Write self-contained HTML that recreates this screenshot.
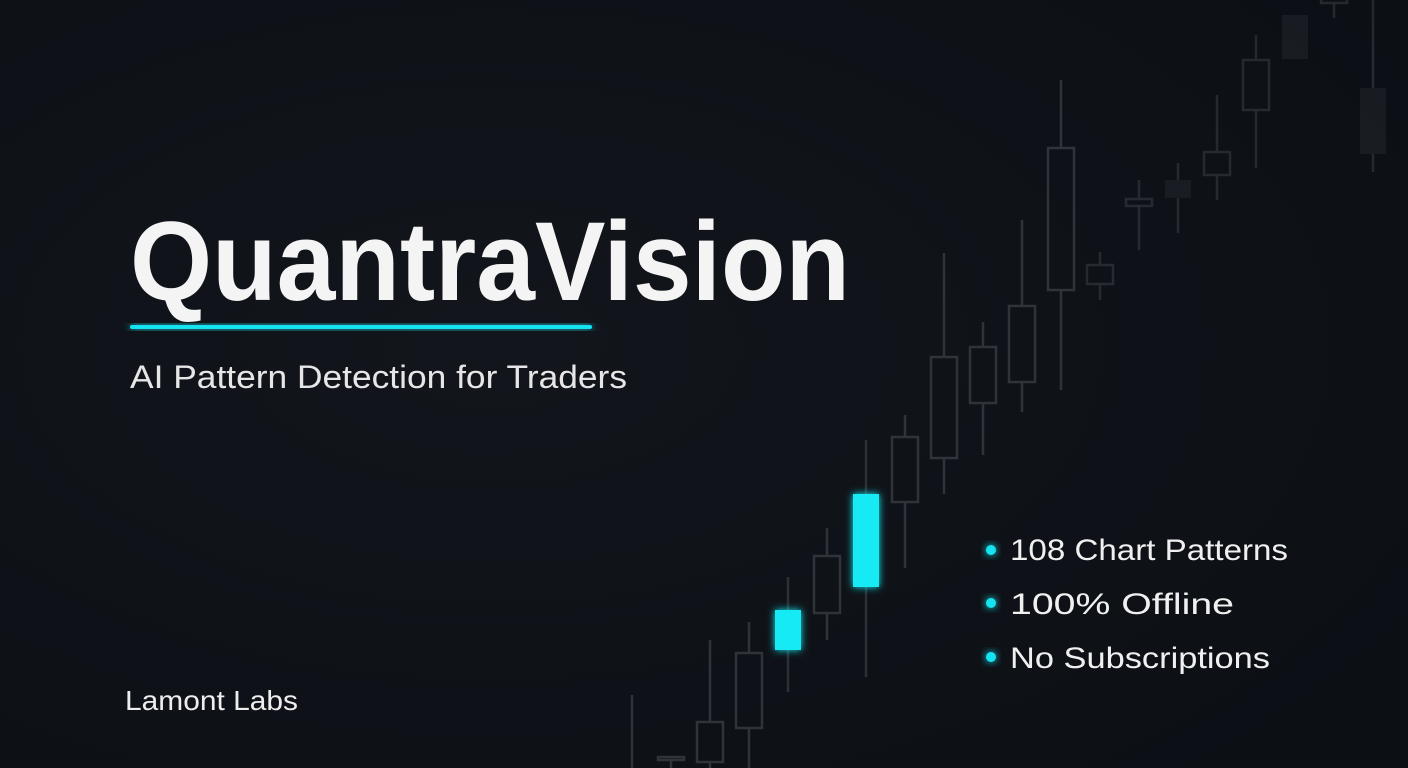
<!DOCTYPE html>
<html><head><meta charset="utf-8">
<style>
html,body{margin:0;padding:0;background:#0d1117;}
svg{display:block;}
</style></head>
<body>
<svg id="chart" width="1408" height="768" viewBox="0 0 1408 768">
<defs>
<radialGradient id="bg" cx="0.35" cy="0.45" r="0.9">
<stop offset="0" stop-color="#12161c"/><stop offset="1" stop-color="#0b0f14"/>
</radialGradient>
<filter id="glow" x="-50%" y="-50%" width="200%" height="200%">
<feGaussianBlur stdDeviation="4" result="b"/>
<feMerge><feMergeNode in="b"/><feMergeNode in="SourceGraphic"/></feMerge>
</filter>
</defs>
<rect width="1408" height="768" fill="url(#bg)"/>
<g id="candles"></g>
<text x="130" y="300" font-family="Liberation Sans, sans-serif" font-weight="700" font-size="112" fill="#f4f4f4" textLength="720" lengthAdjust="spacingAndGlyphs">QuantraVision</text>
<rect x="130" y="325" width="462" height="4" rx="2" fill="#19e3f2" filter="url(#glow)"/>
<text x="130" y="388" font-family="Liberation Sans, sans-serif" font-size="32" fill="#e6e6e6" textLength="497" lengthAdjust="spacingAndGlyphs">AI Pattern Detection for Traders</text>
<text x="125" y="710" font-family="Liberation Sans, sans-serif" font-size="28" fill="#ededed" textLength="173" lengthAdjust="spacingAndGlyphs">Lamont Labs</text>
<g>
<circle cx="991" cy="550" r="5" fill="#19e3f2" filter="url(#glow)"/>
<text x="1010" y="560" font-family="Liberation Sans, sans-serif" font-size="30" fill="#f0f0f0" textLength="278" lengthAdjust="spacingAndGlyphs">108 Chart Patterns</text>
<circle cx="991" cy="603" r="5" fill="#19e3f2" filter="url(#glow)"/>
<text x="1010" y="614" font-family="Liberation Sans, sans-serif" font-size="30" fill="#f0f0f0" textLength="224" lengthAdjust="spacingAndGlyphs">100% Offline</text>
<circle cx="991" cy="657" r="5" fill="#19e3f2" filter="url(#glow)"/>
<text x="1010" y="668" font-family="Liberation Sans, sans-serif" font-size="30" fill="#f0f0f0" textLength="260" lengthAdjust="spacingAndGlyphs">No Subscriptions</text>
</g>
</svg>
<script>
const candleOpen  = [-10, 8, 6, 40, 118, 155, 181, 266, 310, 365, 386, 478, 484, 562, 570, 593, 658, 709, 765, 614];
const candleClose = [-2, 11, 46, 115, 158, 212, 274, 331, 411, 421, 462, 620, 503, 569, 588, 616, 708, 753, 773, 680];
const candleHigh  = [73, 11, 128, 146, 191, 240, 328, 353, 515, 446, 548, 688, 516, 588, 605, 673, 733, 753, 790, 790];
const candleLow   = [-10, 0, -10, -10, 76, 128, 91, 200, 274, 313, 356, 378, 468, 518, 535, 568, 600, 709, 750, 596];
const candleFilled = [0,0,0,0,1,0,1,0,0,0,0,0,0,0,2,0,0,2,0,2];

const xScale = i => 632 + i * 39;
const yScale = p => 768 - p;
const g = document.getElementById('candles');
const NS = 'http://www.w3.org/2000/svg';
const bw = 26;
for (let i = 0; i < candleOpen.length; i++) {
  const x = xScale(i);
  const fade = i < 12 ? 0.75 : 0.55;
  const top = yScale(Math.max(candleOpen[i], candleClose[i]));
  const bot = yScale(Math.min(candleOpen[i], candleClose[i]));
  const cyan = candleFilled[i] === 1;
  const col = cyan ? '#14eaf5' : '#3a3f46';
  const grp = document.createElementNS(NS, 'g');
  
  
  grp.setAttribute('opacity', cyan ? 1 : fade);
  const w = document.createElementNS(NS, 'line');
  
  
  w.setAttribute('x1', x); w.setAttribute('x2', x);
  w.setAttribute('y1', yScale(candleHigh[i])); w.setAttribute('y2', yScale(candleLow[i]));
  w.setAttribute('stroke', cyan ? '#2b3036' : col); w.setAttribute('stroke-width', 2.5);
  grp.appendChild(w);
  const r = document.createElementNS(NS, 'rect');
  
  
  r.setAttribute('x', x - bw / 2); r.setAttribute('y', top);
  r.setAttribute('width', bw); r.setAttribute('height', Math.max(bot - top, 3));
  if (cyan) { r.setAttribute('fill', col); r.setAttribute('filter', 'url(#glow)'); }
  else if (candleFilled[i] === 2) { r.setAttribute('fill', '#23272d'); }
  else { r.setAttribute('fill', '#0f1318'); r.setAttribute('stroke', col); r.setAttribute('stroke-width', 2.5); }
  grp.appendChild(r);
  g.appendChild(grp);
}
</script>
</body></html>
